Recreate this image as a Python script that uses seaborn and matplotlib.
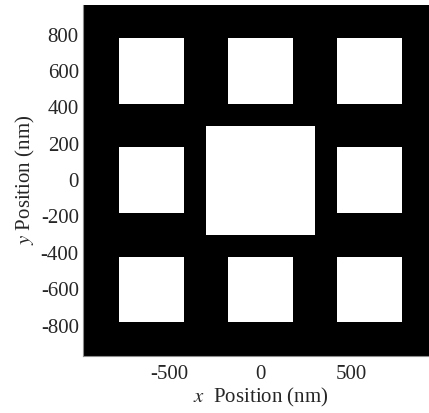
import numpy as np
import pandas as pd
import seaborn as sns
import matplotlib
matplotlib.use("Agg")
import matplotlib.pyplot as plt

# square holes (nm): centre x, centre y, side length
hole_x = [-600, 0, 600, -600, 0, 600, -600, 0, 600]
hole_y = [600, 600, 600, 0, 0, 0, -600, -600, -600]
hole_side = [360, 360, 360, 360, 600, 360, 360, 360, 360]

half_x = 975        # half width of the plotted domain (nm)
half_y = 965        # half height of the plotted domain (nm)
step = 5            # grid resolution (nm)
x_ticks = [-500, 0, 500]
y_ticks = [800, 600, 400, 200, 0, -200, -400, -600, -800]

sns.set_theme(style="white")
plt.rcParams['font.family'] = ['Liberation Serif', 'DejaVu Serif']
plt.rcParams['mathtext.fontset'] = 'stix'

# build the structure map on a grid
xs = np.arange(-half_x + step / 2, half_x, step)
ys = np.arange(-half_y + step / 2, half_y, step)[::-1]
X, Y = np.meshgrid(xs, ys)
mask = np.zeros_like(X)
for cx, cy, s in zip(hole_x, hole_y, hole_side):
    mask[(np.abs(X - cx) <= s / 2) & (np.abs(Y - cy) <= s / 2)] = 1
grid = pd.DataFrame(mask, index=ys, columns=xs)

fig = plt.figure(figsize=(4.29, 4.13), dpi=100)
ax = fig.add_axes([83 / 429, 1 - 355.7 / 413, 355 / 429, 351.2 / 413])
sns.heatmap(grid, cmap="gray", vmin=0, vmax=1, cbar=False, ax=ax,
            xticklabels=False, yticklabels=False)

ax.set_xticks([(v + half_x) / step for v in x_ticks])
ax.set_xticklabels([str(v) for v in x_ticks])
ax.set_yticks([(half_y - v) / step for v in y_ticks])
ax.set_yticklabels([str(v) for v in y_ticks], rotation=0)
ax.tick_params(axis='x', length=0, pad=7, labelsize=15)
ax.tick_params(axis='y', length=0, pad=3, labelsize=15)

for side in ['left', 'bottom']:
    ax.spines[side].set_visible(True)
    ax.spines[side].set_color('0.55')
    ax.spines[side].set_linewidth(0.8)

ax.set_xlabel('$x$  Position (nm)', fontsize=15, labelpad=1)
ax.set_ylabel('$y$ Position (nm)', fontsize=15, labelpad=3)

fig.savefig("out.png", dpi=100)
